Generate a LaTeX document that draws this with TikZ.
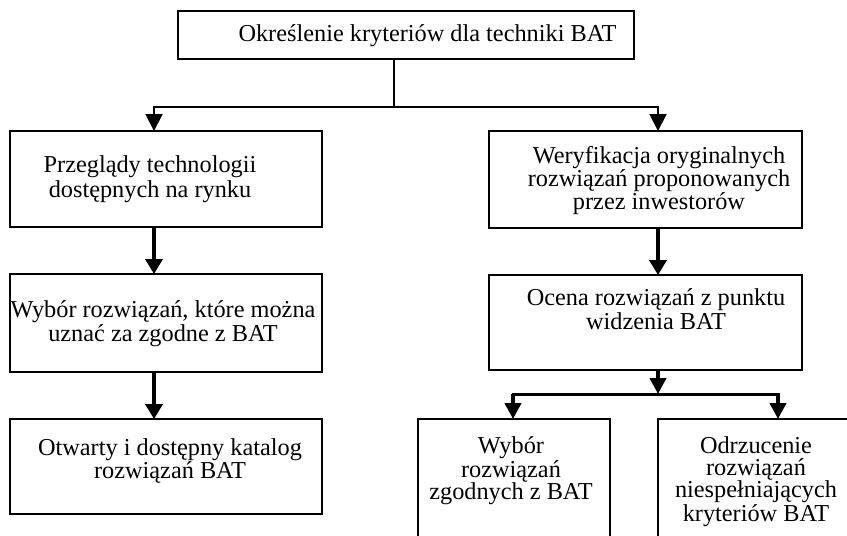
\documentclass[tikz,border=0pt]{standalone}
\usepackage{fontspec}
\setmainfont{Liberation Serif}
\usetikzlibrary{arrows.meta}
\begin{document}
\begin{tikzpicture}[x=1pt,y=-1pt,
  box/.style={draw, line width=2pt, anchor=north west, inner sep=0pt, outer sep=0pt},
  txt/.style={font=\fontsize{24.3}{#1}\selectfont, align=center, inner sep=0pt, anchor=base},
  thinline/.style={line width=2pt},
  thinarr/.style={line width=2pt, -{Triangle[length=17pt,width=17pt]}},
  thickarr/.style={line width=4pt, -{Triangle[length=15pt,width=17pt]}},
  midarr/.style={line width=4pt, -{Triangle[length=16pt,width=16pt]}}
]
\useasboundingbox (0,0) rectangle (847,536);
\fill[white] (0,0) rectangle (847,536);
\clip (0,0) rectangle (847,536);

% boxes
\node[box, minimum width=456pt, minimum height=48pt] (top) at (178,11) {};
\node[box, minimum width=312pt, minimum height=96pt] (l1) at (10,131) {};
\node[box, minimum width=312pt, minimum height=98pt] (l2) at (10,274) {};
\node[box, minimum width=312pt, minimum height=95pt] (l3) at (10,419) {};
\node[box, minimum width=313pt, minimum height=97pt] (r1) at (489,131) {};
\node[box, minimum width=313pt, minimum height=95pt] (r2) at (489,275) {};
\node[box, minimum width=192pt, minimum height=141pt] (a) at (418,419) {};
\node[box, minimum width=212pt, minimum height=141pt] (b) at (658,419) {};

% texts (anchor = baseline of the last line)
\node[txt=24pt] (ttop) at (427.5,41) {Określenie kryteriów dla techniki BAT};
\node[txt=25pt] (tl1) at (150,197) {Przeglądy technologii\\dostępnych na rynku};
\node[txt=24pt] (tl2) at (163,341) {Wybór rozwiązań, które można\\uznać za zgodne z BAT};
\node[txt=23pt] (tl3) at (170,478) {Otwarty i dostępny katalog\\rozwiązań BAT};
\node[txt=23pt] (tr1) at (659,209) {Weryfikacja oryginalnych\\rozwiązań proponowanych\\przez inwestorów};
\node[txt=22pt] (tr2) at (656,329) {Ocena rozwiązań z punktu\\widzenia BAT};
\node[txt=22pt] (ta) at (511,499) {Wybór\\rozwiązań\\zgodnych z BAT};
\node[txt=22pt] (tb) at (756,521) {Odrzucenie\\rozwiązań\\niespełniających\\kryteriów BAT};

% connectors
\coordinate (j1) at (394,107);
\coordinate (al) at (154,107);
\coordinate (ar) at (658,107);
\draw[thinline] (top.south -| j1) -- (j1);
\draw[thinline, line cap=rect] (al) -- (ar);
\draw[thinarr] (al) -- (al |- l1.north);
\draw[thinarr] (ar) -- (ar |- r1.north);
\draw[thickarr] (al |- l1.south) -- (al |- l2.north);
\draw[thickarr] (al |- l2.south) -- (al |- l3.north);
\draw[thickarr] (ar |- r1.south) -- (ar |- r2.north);

\coordinate (j2) at (658,394);
\coordinate (bl) at (513,394);
\coordinate (br) at (778,394);
\draw[midarr] (r2.south -| j2) -- (j2);
\draw[line width=3pt, line cap=rect] (bl) -- (br);
\draw[midarr] (bl) -- (bl |- a.north);
\draw[midarr] (br) -- (br |- b.north);
\end{tikzpicture}
\end{document}
